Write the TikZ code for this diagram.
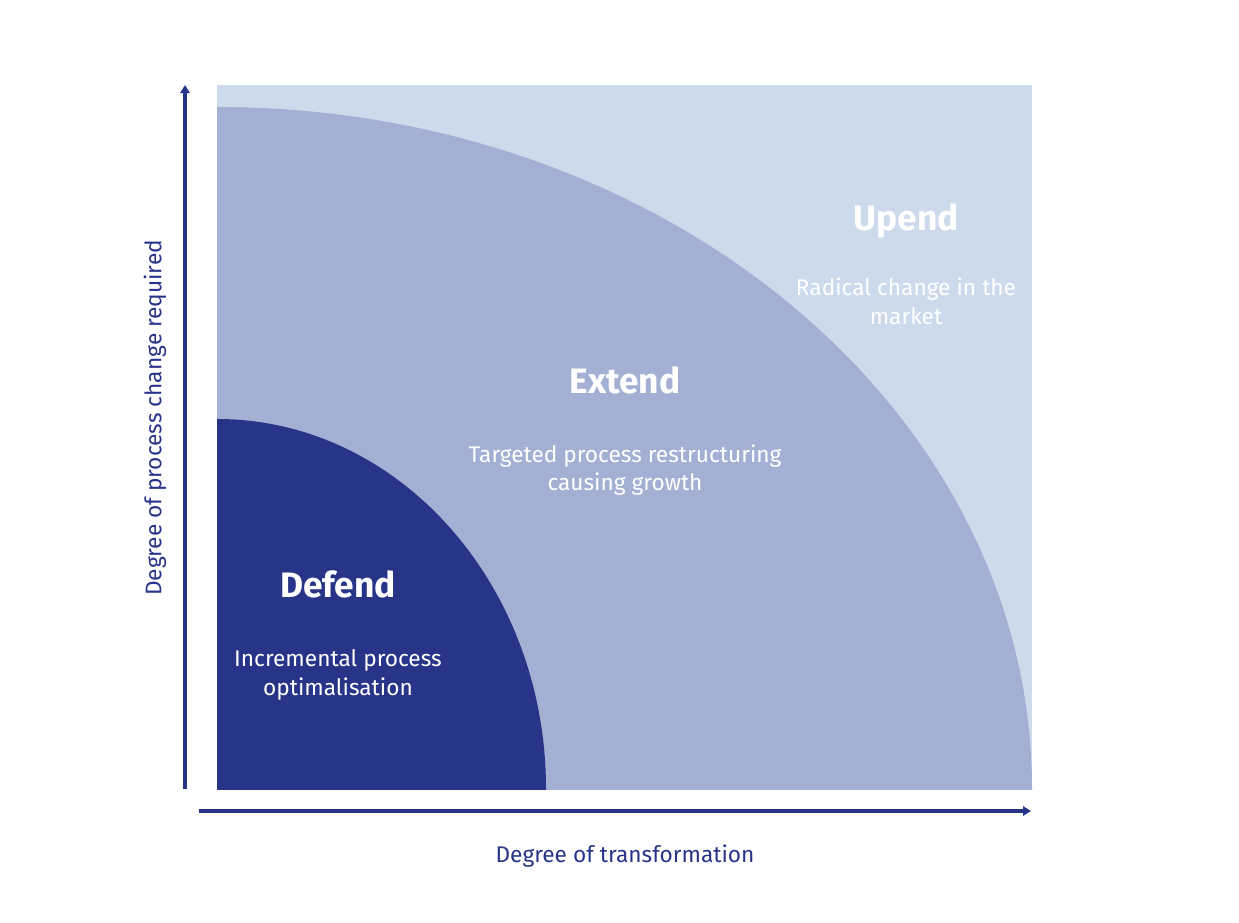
\documentclass[tikz,border=0pt]{standalone}
\usepackage{fontspec}
\setmainfont{Fira Sans}
\usetikzlibrary{positioning,arrows.meta}
\definecolor{defendblue}{HTML}{283488}
\definecolor{extendblue}{HTML}{A3B0D3}
\definecolor{upendblue}{HTML}{CCDAEC}

\begin{document}
\begin{tikzpicture}[
x=0.75pt, y=-0.75pt,
title/.style={text=white, font=\fontsize{26.5}{30}\selectfont\bfseries},
desc/.style={text=white, align=center, font=\fontsize{17}{21.5}\selectfont},
axislabel/.style={text=defendblue, font=\fontsize{17}{20}\selectfont},
axis/.style={-{Triangle[length=6pt,width=7pt]}, line width=2.3pt, draw=defendblue}
]
\useasboundingbox (0,0) rectangle (1239,922);
% regions
\fill[upendblue] (217,85) rectangle (1032,789);
\begin{scope}
\clip (217,85) rectangle (1032,789);
\fill[extendblue] (217,789) ellipse[x radius=815, y radius=682];
\fill[defendblue] (217,789) ellipse[x radius=329, y radius=370];
\end{scope}
% labels
\node[title] (upend) at (906,221) {Upend};
\node[desc] (upenddesc) at (906,301) {Radical change in the\\market};
\node[title] (extend) at (625,380) {Extend};
\node[desc] (extenddesc) at (625,470) {Targeted process restructuring\\causing growth};
\node[title] (defend) at (338,584) {Defend};
\node[desc] (defenddesc) at (338,675) {Incremental process\\optimalisation};
% axes
\coordinate (yfoot) at (185,789);
\coordinate (ytip) at (185,85);
\coordinate (xfoot) at (199,811);
\coordinate (xtip) at (1031,811);
\draw[axis] (yfoot)--(ytip);
\draw[axis] (xfoot)--(xtip);
\node[axislabel, rotate=90] (ylabel) at (155,418) {Degree of process change required};
\node[axislabel] (xlabel) at (625,856) {Degree of transformation};
\end{tikzpicture}
\end{document}
